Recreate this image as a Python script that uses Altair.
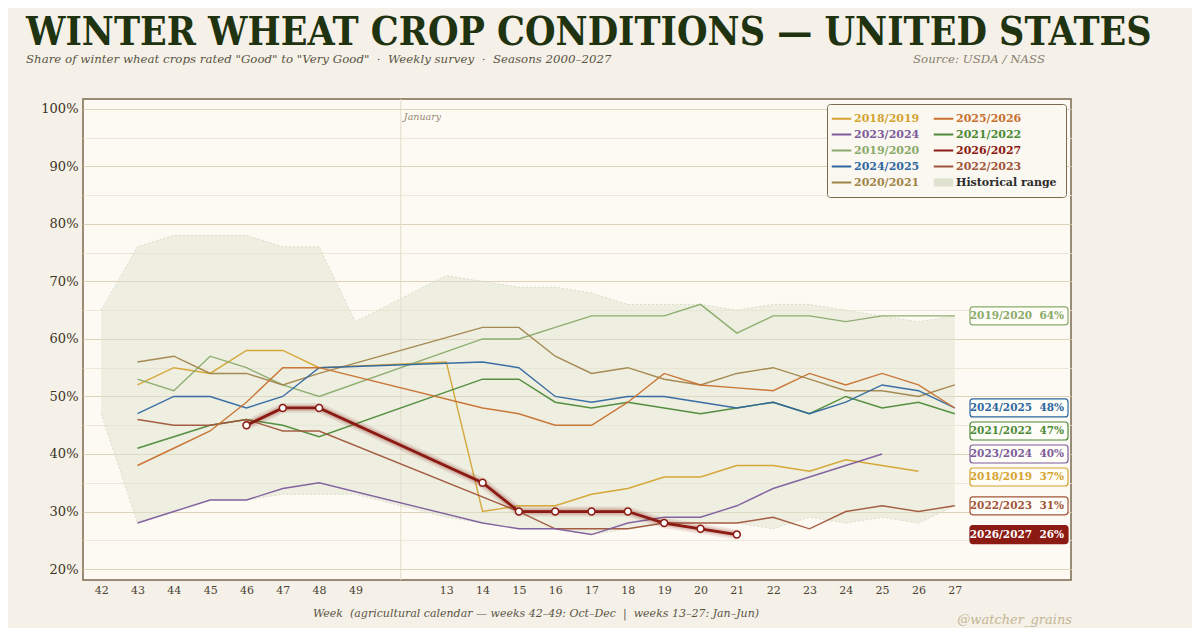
import altair as alt
import pandas as pd

# ---------------- data ----------------
WEEKS = [42, 43, 44, 45, 46, 47, 48, 49, 13, 14, 15, 16, 17, 18, 19, 20, 21, 22, 23, 24, 25, 26, 27]
BAND_HI = [65, 76, 78, 78, 78, 76, 76, 63, 71, 70, 69, 69, 68, 66, 66, 66, 65, 66, 66, 65, 64, 63, 64]
BAND_LO = [47, 28, 30, 32, 32, 33, 33, 33, 29, 28, 27, 27, 26, 27, 28, 28, 28, 27, 29, 28, 29, 28, 31]

W_FALL = [43, 44, 45, 46, 47, 48]
W_14_27 = [14, 15, 16, 17, 18, 19, 20, 21, 22, 23, 24, 25, 26, 27]

S2018_W = W_FALL + [13] + W_14_27[:-1]
S2018_V = [52, 55, 54, 58, 58, 55, 56, 30, 31, 31, 33, 34, 36, 36, 38, 38, 37, 39, 38, 37]
S2019_W = W_FALL + W_14_27
S2019_V = [53, 51, 57, 55, 52, 50, 60, 60, 62, 64, 64, 64, 66, 61, 64, 64, 63, 64, 64, 64]
S2020_W = W_FALL + W_14_27
S2020_V = [56, 57, 54, 54, 52, 54, 62, 62, 57, 54, 55, 53, 52, 54, 55, 53, 51, 51, 50, 52]
S2021_W = W_FALL + W_14_27
S2021_V = [41, 43, 45, 46, 45, 43, 53, 53, 49, 48, 49, 48, 47, 48, 49, 47, 50, 48, 49, 47]
S2022_W = W_FALL + W_14_27[1:]
S2022_V = [46, 45, 45, 46, 44, 44, 30, 27, 27, 27, 28, 28, 28, 29, 27, 30, 31, 30, 31]
S2023_W = W_FALL + W_14_27[:-2]
S2023_V = [28, 30, 32, 32, 34, 35, 28, 27, 27, 26, 28, 29, 29, 31, 34, 36, 38, 40]
S2024_W = W_FALL + W_14_27
S2024_V = [47, 50, 50, 48, 50, 55, 56, 55, 50, 49, 50, 50, 49, 48, 49, 47, 49, 52, 51, 48]
S2025_W = W_FALL + W_14_27
S2025_V = [38, 41, 44, 49, 55, 55, 48, 47, 45, 45, 49, 54, 52, 51.5, 51, 54, 52, 54, 52, 48]
S2026_W = [46, 47, 48, 14, 15, 16, 17, 18, 19, 20, 21]
S2026_V = [45, 48, 48, 35, 30, 30, 30, 30, 28, 27, 26]

SEASONS = {
    "2018/2019": (S2018_W, S2018_V),
    "2019/2020": (S2019_W, S2019_V),
    "2020/2021": (S2020_W, S2020_V),
    "2021/2022": (S2021_W, S2021_V),
    "2022/2023": (S2022_W, S2022_V),
    "2023/2024": (S2023_W, S2023_V),
    "2024/2025": (S2024_W, S2024_V),
    "2025/2026": (S2025_W, S2025_V),
    "2026/2027": (S2026_W, S2026_V),
}
CURRENT = "2026/2027"
LABELLED = ["2019/2020", "2024/2025", "2021/2022", "2023/2024", "2018/2019", "2022/2023", "2026/2027"]
BAND_NAME = "Historical range"

# legend is filled column by column
LEGEND_ORDER = ["2018/2019", "2023/2024", "2019/2020", "2024/2025", "2020/2021",
                "2025/2026", "2021/2022", "2026/2027", "2022/2023", BAND_NAME]
PALETTE = {
    "2018/2019": "#d4a32f",
    "2023/2024": "#7d5c9c",
    "2019/2020": "#8aaa6a",
    "2024/2025": "#2f67a0",
    "2020/2021": "#a0854a",
    "2025/2026": "#c8702e",
    "2021/2022": "#4c8a38",
    "2026/2027": "#8b1a12",
    "2022/2023": "#a0553a",
    BAND_NAME: "#dfe2cf",
}

TITLE = "WINTER WHEAT CROP CONDITIONS \u2014 UNITED STATES"
SUBTITLE = 'Share of winter wheat crops rated "Good" to "Very Good"\u00a0\u00a0\u00b7\u00a0\u00a0Weekly survey\u00a0\u00a0\u00b7\u00a0\u00a0Seasons 2000\u20132027'
SOURCE = "Source: USDA / NASS"
XTITLE = "Week\u00a0\u00a0(agricultural calendar \u2014 weeks 42\u201349: Oct\u2013Dec\u00a0\u00a0|\u00a0\u00a0weeks 13\u201327: Jan\u2013Jun)"
WATERMARK = "@watcher_grains"
JAN_TEXT = "January"

# ---------------- helpers ----------------
GAP = 2.5  # spacing (in week steps) between week 49 and week 13


def xpos(w):
    return (w - 42) if w >= 42 else (w - 13) + (49 - 42) + GAP


RED = PALETTE[CURRENT]
FONT = "DejaVu Serif"
TFONT = "DejaVu Serif Condensed"
W, H = 988, 481

band_df = pd.DataFrame({"week": WEEKS, "pos": [xpos(w) for w in WEEKS], "hi": BAND_HI, "lo": BAND_LO})

rows = []
for s, (ws, vs) in SEASONS.items():
    for w, v in zip(ws, vs):
        rows.append({"season": s, "week": w, "pos": xpos(w), "value": v})
lines_df = pd.DataFrame(rows)
cur_df = lines_df[lines_df.season == CURRENT]

# end labels, dodged so that boxes don't overlap
ends = sorted([(SEASONS[s][1][-1], s) for s in LABELLED], reverse=True)
lab_rows = []
prev = None
for v, s in ends:
    y = v if prev is None else min(v, prev - 4)
    prev = y
    lab_rows.append({"season": s, "label_y": y,
                     "text": f"{s}\u00a0\u00a0{v:g}%"})
lab_df = pd.DataFrame(lab_rows)

jan_df = pd.DataFrame({"pos": [(xpos(49) + xpos(13)) / 2], "t": [JAN_TEXT]})


def ternary(field, mapping, default):
    expr = f"'{default}'"
    for k, v in reversed(list(mapping.items())):
        expr = f"{field} == '{k}' ? '{v}' : ({expr})"
    return expr


legend_label_colors = {k: v for k, v in PALETTE.items() if k != BAND_NAME}

xs = alt.Scale(domain=[-0.5, 26.7], nice=False, zero=False)
ys = alt.Scale(domain=[18.1, 101.7], nice=False, zero=False)

x_axis = alt.Axis(
    values=[xpos(w) for w in WEEKS],
    labelExpr=f"datum.value < {xpos(49) + 1} ? format(datum.value + 42, 'd') : format(datum.value + {13 - xpos(13)}, 'd')",
    grid=False, ticks=False, domain=False, labelPadding=4, labelFont=FONT,
    labelFontSize=11, labelColor="#4a4232", labelFlush=False, labelOverlap=False, title=None)
y_axis = alt.Axis(
    values=list(range(20, 101, 5)),
    labelExpr="datum.value % 10 == 0 ? datum.value + '%' : ''",
    grid=True,
    gridColor={"condition": {"test": "datum.value % 10 == 0", "value": "#dcd3b8"}, "value": "#eee8d8"},
    gridWidth=1, ticks=False, domain=False, labelPadding=5, labelFont=FONT,
    labelFontSize=13, labelColor="#3b3325", labelFlush=False, title=None)

X = alt.X("pos:Q", scale=xs, axis=x_axis)


def Y(f):
    return alt.Y(f"{f}:Q", scale=ys, axis=y_axis)


band = alt.Chart(band_df).mark_area(color=PALETTE[BAND_NAME], opacity=0.5).encode(
    x=X, y=Y("lo"), y2="hi")
band_hi = alt.Chart(band_df).mark_line(color="#d2d6c0", strokeWidth=0.8, strokeDash=[2, 2]).encode(x=X, y=Y("hi"))
band_lo = alt.Chart(band_df).mark_line(color="#d2d6c0", strokeWidth=0.8, strokeDash=[2, 2]).encode(x=X, y=Y("lo"))

jan_rule = alt.Chart(jan_df).mark_rule(color="#e3dccb", strokeWidth=1).encode(x=X)
jan_text = alt.Chart(jan_df).mark_text(align="left", baseline="middle", dx=3, font=FONT, fontSize=9.5,
                                       fontStyle="italic", color="#958b76").encode(
    x=X, y=alt.value(18), text="t:N")

band_sym = "M-1,-0.42 L1,-0.42 L1,0.42 L-1,0.42 Z"
legend = alt.Legend(
    title=None, orient="top-right", offset=5, columns=2, gridAlign="each",
    symbolType={"expr": f"datum.label == '{BAND_NAME}' ? '{band_sym}' : 'stroke'"},
    symbolSize=380,
    symbolStrokeWidth={"expr": f"datum.label == '{BAND_NAME}' ? 0 : 2"},
    symbolFillColor={"expr": f"datum.label == '{BAND_NAME}' ? '{PALETTE[BAND_NAME]}' : 'transparent'"},
    labelFont=FONT, labelFontSize=11, labelFontWeight="bold",
    labelColor={"expr": ternary("datum.label", legend_label_colors, "#2b2b2b")},
    fillColor="#fbf8f1", strokeColor="#7a6a50", cornerRadius=3, padding=9,
    rowPadding=4, columnPadding=9, labelOffset=7, symbolOpacity=1)

lines = alt.Chart(lines_df).mark_line(strokeWidth=1.4, opacity=0.95).encode(
    x=X, y=Y("value"),
    color=alt.Color("season:N", scale=alt.Scale(domain=LEGEND_ORDER, range=[PALETTE[k] for k in LEGEND_ORDER]),
                    legend=legend),
    detail="season:N")

glow1 = alt.Chart(cur_df).mark_line(color=RED, strokeWidth=10, opacity=0.10).encode(x=X, y=Y("value"))
glow2 = alt.Chart(cur_df).mark_line(color=RED, strokeWidth=6, opacity=0.18).encode(x=X, y=Y("value"))
cur_line = alt.Chart(cur_df).mark_line(color=RED, strokeWidth=2.8).encode(x=X, y=Y("value"))
cur_pts = alt.Chart(cur_df).mark_point(shape="circle", filled=True, fill="white", stroke=RED,
                                       strokeWidth=1.5, size=48, opacity=1).encode(x=X, y=Y("value"))

BOX_W, BOX_H, BOX_R = 98, 18, 3
r = BOX_W / 2
hy, cr = (BOX_H / 2) / r, BOX_R / r
box_path = (f"M{-1 + cr},{-hy} L{1 - cr},{-hy} A{cr},{cr} 0 0 1 1,{-hy + cr} L1,{hy - cr} "
            f"A{cr},{cr} 0 0 1 {1 - cr},{hy} L{-1 + cr},{hy} A{cr},{cr} 0 0 1 -1,{hy - cr} "
            f"L-1,{-hy + cr} A{cr},{cr} 0 0 1 {-1 + cr},{-hy} Z")
lab_scale = alt.Scale(domain=list(PALETTE.keys()), range=list(PALETTE.values()))

boxes = alt.Chart(lab_df).mark_point(shape=box_path, size=BOX_W ** 2, filled=True, strokeWidth=1.2,
                                     opacity=1, fillOpacity=1, strokeOpacity=1).encode(
    x=alt.value(W - 3 - r), y=Y("label_y"),
    fill=alt.condition(alt.datum.season == CURRENT, alt.value(RED), alt.value("#fffdf7")),
    stroke=alt.Stroke("season:N", scale=lab_scale, legend=None))
labels = alt.Chart(lab_df).mark_text(align="right", baseline="middle", font=FONT, fontSize=10.5,
                                     fontWeight="bold").encode(
    x=alt.value(W - 7), y=Y("label_y"), text="text:N",
    fill=alt.condition(alt.datum.season == CURRENT, alt.value("white"),
                       alt.Fill("season:N", scale=lab_scale, legend=None)))


def txt(t, x, y, size, color, style="normal", weight="normal", align="left", baseline="alphabetic", font=FONT):
    return alt.Chart(pd.DataFrame({"t": [t]})).mark_text(
        align=align, baseline=baseline, font=font, fontSize=size, fontStyle=style,
        fontWeight=weight, color=color).encode(x=alt.value(x), y=alt.value(y), text="t:N")


title = txt(TITLE, -57, -54, 39, "#1f3310", weight="bold", font=TFONT)
subtitle = txt(SUBTITLE, -57, -36, 11.8, "#5a5445", style="italic")
source = txt(SOURCE, 962, -36, 11.8, "#8a8070", style="italic", align="right")
xtitle = txt(XTITLE, 453, 518, 11, "#5a5445", style="italic", align="center")
mark = txt(WATERMARK, W + 1, 525, 13, "#c4b596", style="italic", align="right")

chart = alt.layer(
    band, band_hi, band_lo, jan_rule, jan_text, lines, glow1, glow2, cur_line, cur_pts,
    boxes, labels, title, subtitle, source, xtitle, mark
).properties(
    width=W, height=H, background="#f5f1e8",
    padding={"left": 75, "top": 91, "right": 121, "bottom": 48},
    autosize=alt.AutoSizeParams(type="none"),
).configure_view(
    fill="#fdfaf3", stroke="#7a6a50", strokeWidth=1.5
)

chart.save("out.html", embed_options={"renderer": "svg", "actions": False})
